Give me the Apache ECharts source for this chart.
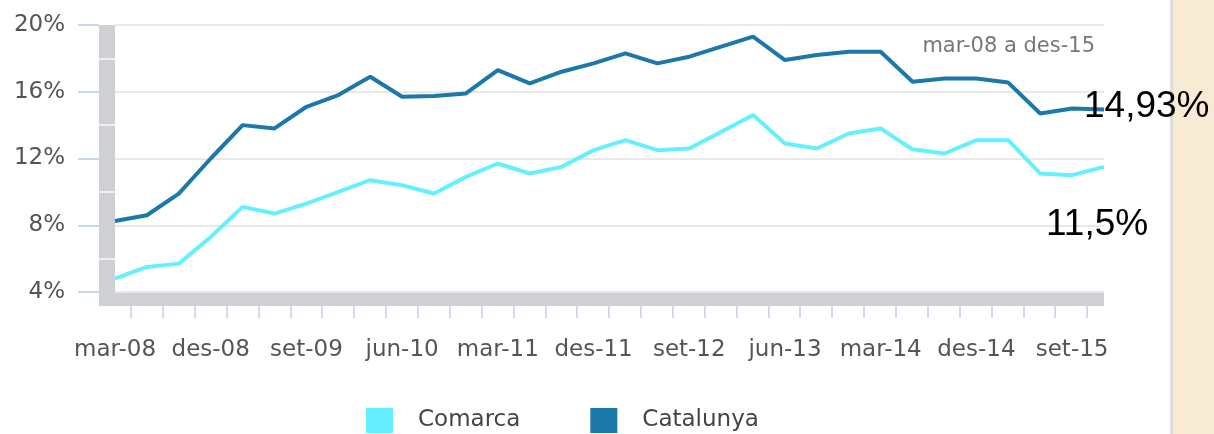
<!DOCTYPE html>
<html>
<head>
<meta charset="utf-8">
<script src="https://cdn.jsdelivr.net/npm/echarts@6/dist/echarts.min.js"></script>
<style>
  html, body { margin: 0; padding: 0; background: #fff; }
  #chart { width: 1214px; height: 434px; }
</style>
</head>
<body>
<div id="chart"></div>
<script>
// trimestres mar-08 .. des-15
var months = ['mar', 'jun', 'set', 'des'];
var categories = [];
for (var y = 8; y <= 15; y++) {
    for (var m = 0; m < months.length; m++) {
        categories.push(months[m] + '-' + (y < 10 ? '0' + y : y));
    }
}

var comarca = [4.8, 5.5, 5.7, 7.3, 9.1, 8.7, 9.3, 10.0, 10.7, 10.4, 9.9, 10.9,
    11.7, 11.1, 11.5, 12.5, 13.1, 12.5, 12.6, 13.6, 14.6, 12.9, 12.6, 13.5,
    13.8, 12.55, 12.3, 13.1, 13.1, 11.1, 11.0, 11.5];
var catalunya = [8.25, 8.6, 9.9, 12.0, 14.0, 13.8, 15.1, 15.8, 16.9, 15.7, 15.75, 15.9,
    17.3, 16.5, 17.2, 17.7, 18.3, 17.7, 18.1, 18.7, 19.3, 17.9, 18.2, 18.4,
    18.4, 16.6, 16.8, 16.8, 16.55, 14.7, 15.0, 14.93];

var periodText = 'mar-08 a des-15';
var yTicks = { min: 4, max: 20, interval: 4 };

var gray = '#cfd0d3';
var labelFont = 'DejaVu Sans';

function endValue(p) {
    return String(p.value).replace('.', ',') + '%';
}

var myChart = echarts.init(document.getElementById('chart'));

var option = {
    backgroundColor: '#fff',
    animation: false,
    title: {
        text: periodText,
        right: 119,
        top: 36,
        padding: 0,
        textStyle: { fontSize: 21, fontFamily: labelFont, fontWeight: 'normal', color: '#777' }
    },
    legend: {
        data: ['Comarca', 'Catalunya'],
        left: 366,
        top: 408,
        padding: 0,
        icon: 'rect',
        itemWidth: 27,
        itemHeight: 25,
        itemGap: 70,
        textStyle: { fontSize: 23, fontFamily: labelFont, color: '#444', padding: [0, 0, 0, 20] }
    },
    graphic: [
        { type: 'rect', shape: { x: 1173, y: 0, width: 41, height: 434 }, style: { fill: '#f8ebd3' }, z: 0 },
        { type: 'rect', shape: { x: 1170, y: 0, width: 3, height: 434 }, style: { fill: '#dedede' }, z: 0 }
    ],
    grid: [
        { left: 115, right: 110, top: 25, bottom: 142 },                      // plot
        { left: 99, width: 16, top: 25, bottom: 142, show: true, backgroundColor: gray, borderWidth: 0 },  // wall
        { left: 99, right: 110, top: 292, height: 14, show: true, backgroundColor: gray, borderWidth: 0 }, // floor
        { left: 131, right: 127, top: 25, bottom: 128 }                       // ticks
    ],
    xAxis: [
        {
            gridIndex: 0,
            type: 'category',
            data: categories,
            boundaryGap: false,
            axisLine: { show: false },
            axisTick: { show: false },
            axisLabel: { interval: 2, margin: 47, fontSize: 23, fontFamily: labelFont, color: '#555' }
        },
        { gridIndex: 1, type: 'value', show: false },
        { gridIndex: 2, type: 'value', show: false },
        {
            gridIndex: 3,
            type: 'category',
            data: categories.slice(1).map(function () { return ''; }),
            boundaryGap: false,
            axisLine: { show: false },
            axisTick: { show: true, interval: 0, length: 12, lineStyle: { color: '#cfdbe8', width: 2 } },
            axisLabel: { show: false }
        }
    ],
    yAxis: [
        {
            gridIndex: 0,
            type: 'value',
            min: yTicks.min,
            max: yTicks.max,
            interval: yTicks.interval,
            axisLine: { show: false },
            axisTick: { show: false },
            axisLabel: { show: false },
            splitLine: { lineStyle: { color: '#e9e9e9', width: 2 } }
        },
        {
            gridIndex: 1,
            type: 'value',
            min: yTicks.min,
            max: yTicks.max,
            interval: yTicks.interval,
            axisLine: { show: false },
            axisTick: { show: true, length: 21, lineStyle: { color: '#c9d7e6', width: 2 } },
            axisLabel: { margin: 34, formatter: '{value}%', fontSize: 23, fontFamily: labelFont, color: '#555' },
            splitLine: { show: false },
            minorTick: { show: false, splitNumber: 2 },
            minorSplitLine: { show: true, lineStyle: { color: '#ededed', width: 2 } }
        },
        { gridIndex: 2, type: 'value', show: false },
        { gridIndex: 3, type: 'value', show: false }
    ],
    series: [
        {
            name: 'Comarca',
            type: 'line',
            data: comarca,
            color: '#66f0ff',
            symbol: 'none',
            lineStyle: { width: 4 },
            endLabel: {
                show: true,
                formatter: endValue,
                offset: [-66, 58],
                fontSize: 37,
                fontFamily: 'Liberation Sans',
                color: '#000'
            }
        },
        {
            name: 'Catalunya',
            type: 'line',
            data: catalunya,
            color: '#1b78a9',
            symbol: 'none',
            lineStyle: { width: 4 },
            endLabel: {
                show: true,
                formatter: endValue,
                offset: [-28, -3],
                fontSize: 37,
                fontFamily: 'Liberation Sans',
                color: '#000'
            }
        }
    ]
};

myChart.setOption(option);
</script>
</body>
</html>
